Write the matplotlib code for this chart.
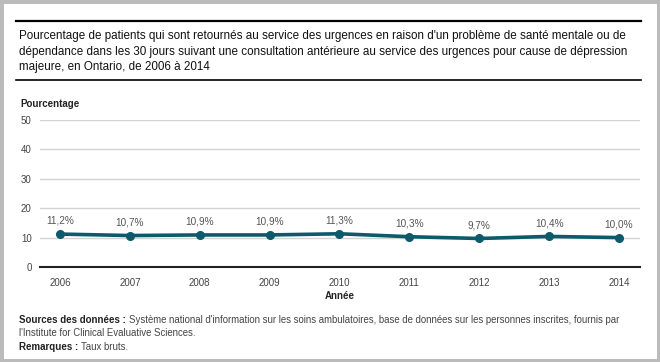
import matplotlib.pyplot as plt
from matplotlib.patches import Rectangle
from matplotlib.lines import Line2D

annees = [2006, 2007, 2008, 2009, 2010, 2011, 2012, 2013, 2014]
pourcentages = [11.2, 10.7, 10.9, 10.9, 11.3, 10.3, 9.7, 10.4, 10.0]
etiquettes = ['11,2%', '10,7%', '10,9%', '10,9%', '11,3%', '10,3%', '9,7%', '10,4%', '10,0%']
yticks = [0, 10, 20, 30, 40, 50]

TITRE = ("Pourcentage de patients qui sont retournés au service des urgences en raison d'un problème de santé mentale ou de\n"
         "dépendance dans les 30 jours suivant une consultation antérieure au service des urgences pour cause de dépression\n"
         "majeure, en Ontario, de 2006 à 2014")
COULEUR = '#0e5a6b'

plt.rcParams['font.family'] = ['Liberation Sans', 'DejaVu Sans']

W, H = 660, 362
fig = plt.figure(figsize=(W / 100, H / 100), dpi=100)

def fx(px):
    return px / W

def fy(py):
    return 1 - py / H

# cadre gris
fig.patches.append(Rectangle((0, 0), 1, 1, transform=fig.transFigure,
                             fill=False, edgecolor='#bbbbbb', linewidth=5))

# lignes noires autour du titre
fig.add_artist(Line2D([fx(16), fx(641)], [fy(21), fy(21)], color='black', lw=1.6))
fig.add_artist(Line2D([fx(16), fx(641)], [fy(80), fy(80)], color='black', lw=1.2))
fig.text(fx(19), fy(30), TITRE, ha='left', va='top', fontsize=8.35, linespacing=1.4, color='#111111')

ax = fig.add_axes([fx(40), fy(267), fx(600), fy(120) - fy(267)])
ax.plot(annees, pourcentages, color=COULEUR, lw=2.6, marker='o', markersize=5.5, zorder=3,
        solid_capstyle='round')
for x, y, t in zip(annees, pourcentages, etiquettes):
    ax.annotate(t, (x, y), xytext=(0, 6), textcoords='offset points', ha='center', va='bottom',
                fontsize=7.2, color='#555555')

ax.set_xlim(2006 - 20 / 69.75, 2014 + 21 / 69.75)
ax.set_ylim(0, 50)
ax.set_yticks(yticks)
ax.set_xticks(annees)
ax.grid(axis='y', color='#d4d4d4', lw=1)
ax.set_axisbelow(True)
for s in ['top', 'right', 'left']:
    ax.spines[s].set_visible(False)
ax.spines['bottom'].set_color('#222222')
ax.spines['bottom'].set_linewidth(1.5)
ax.tick_params(length=0, labelsize=7, colors='#444444', pad=8)
ax.tick_params(axis='y', pad=6)

fig.text(fx(20), fy(104), 'Pourcentage', ha='left', va='center', fontsize=7, fontweight='bold', color='#222222')
fig.text(fx(340), fy(296), 'Année', ha='center', va='center', fontsize=7, fontweight='bold', color='#222222')

renderer = fig.canvas.get_renderer()


def ligne_notes(y, gras, normal):
    t = fig.text(fx(19), fy(y), gras, ha='left', va='center', fontsize=7, fontweight='bold', color='#222222')
    bb = t.get_window_extent(renderer)
    fig.text(fx(bb.x1 + 3), fy(y), normal, ha='left', va='center', fontsize=6.9, color='#444444')


ligne_notes(320, 'Sources des données :',
            "Système national d'information sur les soins ambulatoires, base de données sur les personnes inscrites, fournis par")
fig.text(fx(19), fy(333), "l'Institute for Clinical Evaluative Sciences.", ha='left', va='center', fontsize=6.9, color='#444444')
ligne_notes(347, 'Remarques :', 'Taux bruts.')

fig.savefig('out.png', dpi=100)
